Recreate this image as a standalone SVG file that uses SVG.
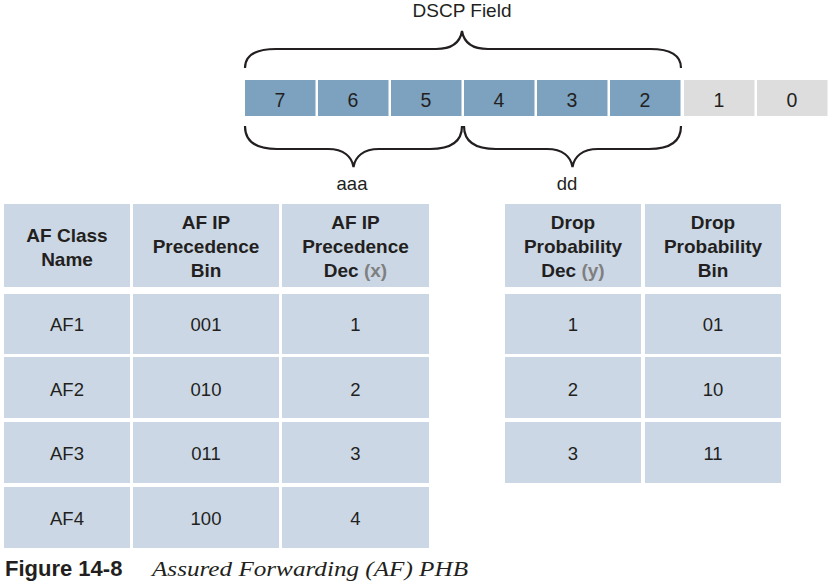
<svg xmlns="http://www.w3.org/2000/svg" width="839" height="582" viewBox="0 0 839 582">
<style>
.t{font-family:"Liberation Sans",Arial,sans-serif;fill:#231f20;text-anchor:middle}
.h{font-size:19px;font-weight:bold}
.b{font-size:18.5px}
.n{font-size:19.5px}
.g{fill:#7f7f7f}
.cell{fill:#cbd7e5}
.bit{fill:#7ca2c0}
.gbit{fill:#dddddd}
.brace{fill:none;stroke:#231f20;stroke-width:2.2}
</style>
<rect width="839" height="582" fill="#ffffff"/>
<g id="dscp-field">
<text class="t" x="462" y="17" font-size="19">DSCP Field</text>
<rect class="bit" x="245" y="80" width="70.5" height="36"/>
<rect class="bit" x="318" y="80" width="70.5" height="36"/>
<rect class="bit" x="391" y="80" width="70.5" height="36"/>
<rect class="bit" x="464" y="80" width="70.5" height="36"/>
<rect class="bit" x="537" y="80" width="70.5" height="36"/>
<rect class="bit" x="610" y="80" width="70.5" height="36"/>
<rect class="gbit" x="684" y="80" width="70.5" height="36"/>
<rect class="gbit" x="757" y="80" width="70.5" height="36"/>
<text class="t n" x="280" y="107">7</text>
<text class="t n" x="353" y="107">6</text>
<text class="t n" x="426" y="107">5</text>
<text class="t n" x="499" y="107">4</text>
<text class="t n" x="572" y="107">3</text>
<text class="t n" x="645" y="107">2</text>
<text class="t n" x="719" y="107">1</text>
<text class="t n" x="792" y="107">0</text>
</g>
<g id="braces">
<path class="brace" d="M245,68 C245,55 255,49 276,49 L436,49 C452,49 460,43 462,31 C464,43 472,49 488,49 L650,49 C671,49 681,55 681,68"/>
<path class="brace" d="M245,126 C245,141 256,149 277,149 L328,149 C344,149 352,157 353.5,167 C355,157 363,149 379,149 L430,149 C451,149 462,141 462,126"/>
<path class="brace" d="M464,126 C464,141 475,149 496,149 L547,149 C563,149 571,157 572.5,167 C574,157 582,149 598,149 L649,149 C670,149 681,141 681,126"/>
<text class="t b" x="352" y="190">aaa</text>
<text class="t b" x="567" y="190">dd</text>
</g>
<g id="af-table">
<rect class="cell" x="4" y="204" width="126" height="83"/>
<rect class="cell" x="133" y="204" width="146" height="83"/>
<rect class="cell" x="282" y="204" width="147" height="83"/>
<text class="t h" x="67" y="242">AF Class</text>
<text class="t h" x="67" y="266">Name</text>
<text class="t h" x="206" y="229">AF IP</text>
<text class="t h" x="206" y="253">Precedence</text>
<text class="t h" x="206" y="277">Bin</text>
<text class="t h" x="355.5" y="229">AF IP</text>
<text class="t h" x="355.5" y="253">Precedence</text>
<text class="t h" x="355.5" y="277">Dec <tspan class="g">(x)</tspan></text>
<rect class="cell" x="4" y="294" width="126" height="60"/>
<rect class="cell" x="133" y="294" width="146" height="60"/>
<rect class="cell" x="282" y="294" width="147" height="60"/>
<rect class="cell" x="4" y="357" width="126" height="61"/>
<rect class="cell" x="133" y="357" width="146" height="61"/>
<rect class="cell" x="282" y="357" width="147" height="61"/>
<rect class="cell" x="4" y="422" width="126" height="61"/>
<rect class="cell" x="133" y="422" width="146" height="61"/>
<rect class="cell" x="282" y="422" width="147" height="61"/>
<rect class="cell" x="4" y="487" width="126" height="61"/>
<rect class="cell" x="133" y="487" width="146" height="61"/>
<rect class="cell" x="282" y="487" width="147" height="61"/>
<text class="t b" x="67" y="331">AF1</text>
<text class="t b" x="206" y="331">001</text>
<text class="t b" x="355.5" y="331">1</text>
<text class="t b" x="67" y="396">AF2</text>
<text class="t b" x="206" y="396">010</text>
<text class="t b" x="355.5" y="396">2</text>
<text class="t b" x="67" y="460">AF3</text>
<text class="t b" x="206" y="460">011</text>
<text class="t b" x="355.5" y="460">3</text>
<text class="t b" x="67" y="525">AF4</text>
<text class="t b" x="206" y="525">100</text>
<text class="t b" x="355.5" y="525">4</text>
</g>
<g id="drop-table">
<rect class="cell" x="505" y="204" width="136" height="83"/>
<rect class="cell" x="645" y="204" width="136" height="83"/>
<text class="t h" x="573" y="229">Drop</text>
<text class="t h" x="573" y="253">Probability</text>
<text class="t h" x="573" y="277">Dec <tspan class="g">(y)</tspan></text>
<text class="t h" x="713" y="229">Drop</text>
<text class="t h" x="713" y="253">Probability</text>
<text class="t h" x="713" y="277">Bin</text>
<rect class="cell" x="505" y="294" width="136" height="60"/>
<rect class="cell" x="645" y="294" width="136" height="60"/>
<rect class="cell" x="505" y="357" width="136" height="61"/>
<rect class="cell" x="645" y="357" width="136" height="61"/>
<rect class="cell" x="505" y="422" width="136" height="61"/>
<rect class="cell" x="645" y="422" width="136" height="61"/>
<text class="t b" x="573" y="331">1</text>
<text class="t b" x="713" y="331">01</text>
<text class="t b" x="573" y="396">2</text>
<text class="t b" x="713" y="396">10</text>
<text class="t b" x="573" y="460">3</text>
<text class="t b" x="713" y="460">11</text>
</g>
<g id="caption">
<text x="5" y="576" font-family="Liberation Sans,Arial,sans-serif" font-weight="bold" font-size="22" fill="#231f20">Figure 14-8</text>
<text x="152" y="576" font-family="Liberation Serif,Times New Roman,serif" font-style="italic" font-size="22" fill="#231f20" textLength="316" lengthAdjust="spacingAndGlyphs">Assured Forwarding (AF) PHB</text>
</g>
</svg>
